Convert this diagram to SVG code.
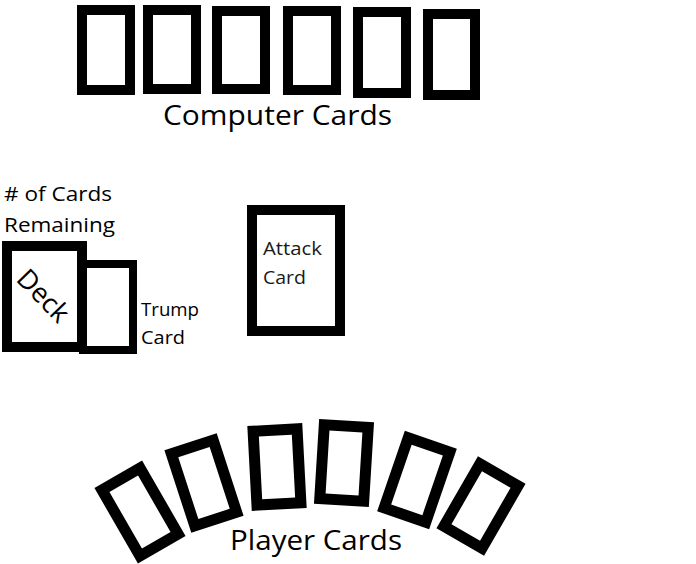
<svg xmlns="http://www.w3.org/2000/svg" width="696" height="564" viewBox="0 0 696 564">
<style>
.card{fill:#fff;stroke:#000;stroke-width:10}
.pc{fill:#fff;stroke:#000;stroke-width:11}
text{font-family:"Open Sans","Noto Sans","Liberation Sans",sans-serif;fill:#000}
.big{font-size:28px}
.sm{font-size:20px}
.xs{font-size:18px}
</style>
<rect width="696" height="564" fill="#fff"/>
<g id="computer-cards">
<rect class="card" x="82" y="10" width="48" height="80"/>
<rect class="card" x="148" y="10" width="48" height="79"/>
<rect class="card" x="217" y="11" width="48" height="78"/>
<rect class="card" x="288" y="11" width="48" height="79"/>
<rect class="card" x="358" y="12" width="48" height="81"/>
<rect class="card" x="428" y="14" width="47" height="81"/>
<text class="big" x="163" y="125" textLength="229" lengthAdjust="spacingAndGlyphs">Computer Cards</text>
</g>
<g id="remaining">
<text class="sm" x="4" y="201" textLength="108" lengthAdjust="spacingAndGlyphs"># of Cards</text>
<text class="sm" x="4" y="232" textLength="111" lengthAdjust="spacingAndGlyphs">Remaining</text>
</g>
<g id="trump">
<rect class="card" style="stroke-width:8" x="83" y="264" width="50" height="86"/>
<text class="xs" x="141" y="316" textLength="58" lengthAdjust="spacingAndGlyphs">Trump</text>
<text class="xs" x="141" y="344" textLength="44" lengthAdjust="spacingAndGlyphs">Card</text>
</g>
<g id="deck">
<rect class="card" x="7" y="246" width="75" height="101"/>
<text class="sm" style="font-size:27px" text-anchor="middle" transform="translate(43,296) rotate(46)" y="9">Deck</text>
</g>
<g id="attack">
<rect class="card" x="252" y="210" width="88" height="121"/>
<text class="xs" style="fill:#1a1a1a" x="263" y="255" textLength="59" lengthAdjust="spacingAndGlyphs">Attack</text>
<text class="xs" style="fill:#1a1a1a" x="263" y="284" textLength="43" lengthAdjust="spacingAndGlyphs">Card</text>
</g>
<g id="player-cards">
<rect class="pc" x="-22" y="-38" width="44" height="76" transform="translate(140,512) rotate(-30)"/>
<rect class="pc" x="-22" y="-38" width="44" height="76" transform="translate(204,483) rotate(-18)"/>
<rect class="pc" x="-22" y="-37" width="44" height="74" transform="translate(277,467) rotate(-3)"/>
<rect class="pc" x="-22" y="-37" width="44" height="74" transform="translate(344,463) rotate(3.5)"/>
<rect class="pc" x="-22" y="-37" width="44" height="74" transform="translate(417,480) rotate(19)"/>
<rect class="pc" x="-22" y="-36" width="44" height="72" transform="translate(481,506) rotate(30)"/>
<text class="big" x="230" y="550" textLength="172" lengthAdjust="spacingAndGlyphs">Player Cards</text>
</g>
</svg>
